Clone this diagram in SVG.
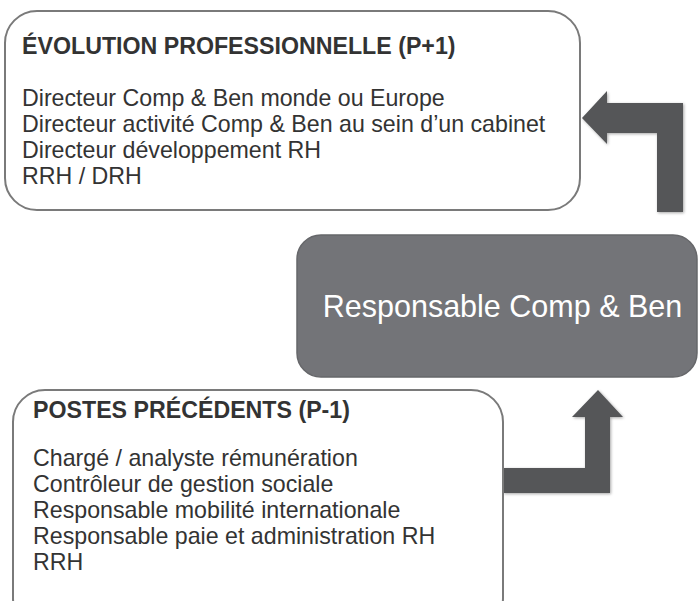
<svg xmlns="http://www.w3.org/2000/svg" width="700" height="601" viewBox="0 0 700 601">
<style>
.box{fill:#fff;stroke:#7a7a7a;stroke-width:2}
.t{font-family:"Liberation Sans",Arial,sans-serif;font-size:23.2px;fill:#333}
.b{font-weight:bold}
.arrow{fill:#555658}
</style>
<defs>
<filter id="sh" x="-10%" y="-10%" width="130%" height="130%">
<feGaussianBlur in="SourceAlpha" stdDeviation="1.5"/>
<feOffset dx="1" dy="1" result="o"/>
<feComponentTransfer><feFuncA type="linear" slope="0.35"/></feComponentTransfer>
<feMerge><feMergeNode/><feMergeNode in="SourceGraphic"/></feMerge>
</filter>
</defs>
<g id="connectors">
<path class="arrow" filter="url(#sh)" d="M683,212 L657,212 L657,133 L607,133 L607,144 L582,118 L607,91 L607,103 L683,103 Z"/>
<path class="arrow" filter="url(#sh)" d="M503,468 L585,468 L585,417 L572,417 L598,390 L623,417 L610,417 L610,493 L503,493 Z"/>
</g>
<g id="node-evolution">
<rect class="box" x="5" y="11" width="575" height="199" rx="32"/>
<text class="t b" x="22" y="54">ÉVOLUTION PROFESSIONNELLE (P+1)</text>
<text class="t" x="22" y="106">Directeur Comp &amp; Ben monde ou Europe</text>
<text class="t" x="22" y="132">Directeur activité Comp &amp; Ben au sein d’un cabinet</text>
<text class="t" x="22" y="158">Directeur développement RH</text>
<text class="t" x="22" y="184">RRH / DRH</text>
</g>
<g id="node-responsable">
<rect x="297" y="235" width="400" height="142" rx="24" fill="#737478" stroke="#66676a" stroke-width="1.5"/>
<text x="502.5" y="317" text-anchor="middle" font-family="'Liberation Sans',Arial,sans-serif" font-size="30.5" fill="#fff">Responsable Comp &amp; Ben</text>
</g>
<g id="node-precedents">
<rect class="box" x="13" y="390" width="490" height="240" rx="32"/>
<text class="t b" x="33" y="418">POSTES PRÉCÉDENTS (P-1)</text>
<text class="t" x="33" y="466">Chargé / analyste rémunération</text>
<text class="t" x="33" y="492">Contrôleur de gestion sociale</text>
<text class="t" x="33" y="518">Responsable mobilité internationale</text>
<text class="t" x="33" y="544">Responsable paie et administration RH</text>
<text class="t" x="33" y="570">RRH</text>
</g>
</svg>
